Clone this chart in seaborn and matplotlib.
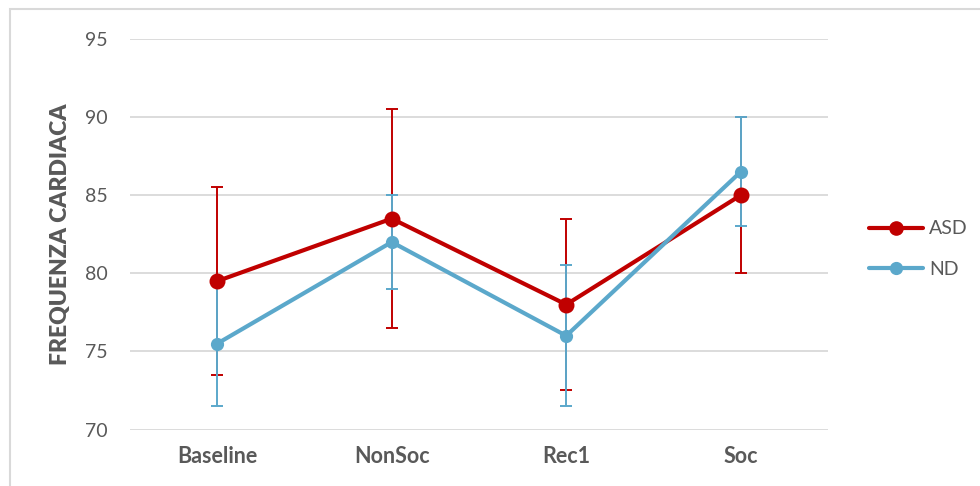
import matplotlib
matplotlib.use("Agg")
import matplotlib.pyplot as plt
from matplotlib.lines import Line2D
from matplotlib.patches import Rectangle
import numpy as np
import pandas as pd
import seaborn as sns

# Heart-rate means and error bar half-widths per condition
conditions = ["Baseline", "NonSoc", "Rec1", "Soc"]
asd_mean = [79.5, 83.5, 78.0, 85.0]
asd_err = [6.0, 7.0, 5.5, 5.0]
nd_mean = [75.5, 82.0, 76.0, 86.5]
nd_err = [4.0, 3.0, 4.5, 3.5]
groups = ["ASD", "ND"]
y_ticks = [70, 75, 80, 85, 90, 95]

red = "#C00000"
blue = "#5BA8CB"
text_grey = "#595959"
grid_grey = "#D9D9D9"

sns.set_theme(style="white")
plt.rcParams["font.family"] = ["Lato", "DejaVu Sans"]

df = pd.DataFrame({
    "pos": list(range(len(conditions))) * 2,
    "value": asd_mean + nd_mean,
    "group": ["ASD"] * len(conditions) + ["ND"] * len(conditions),
})

fig = plt.figure(figsize=(9.8, 4.86), dpi=100)
ax = fig.add_axes([130 / 980, (486 - 429.5) / 486, 698 / 980, 390.5 / 486])

# outer chart frame
fig.patches.append(Rectangle((10 / 980, -0.1), 1.2, (486 - 9) / 486 + 0.1,
                             transform=fig.transFigure, fill=False,
                             edgecolor=grid_grey, linewidth=1.5, zorder=0))

x = np.arange(len(conditions))
ax.errorbar(x, asd_mean, yerr=asd_err, fmt="none", ecolor=red,
            elinewidth=1.4, capsize=4, capthick=1.4, zorder=2)
ax.errorbar(x, nd_mean, yerr=nd_err, fmt="none", ecolor=blue,
            elinewidth=1.4, capsize=4, capthick=1.4, zorder=2)

sns.lineplot(data=df[df["group"] == "ASD"], x="pos", y="value", ax=ax,
             color=red, linewidth=3, marker="o", markersize=11.5,
             markeredgewidth=0, legend=False, zorder=3)
sns.lineplot(data=df[df["group"] == "ND"], x="pos", y="value", ax=ax,
             color=blue, linewidth=3, marker="o", markersize=9.5,
             markeredgewidth=0, legend=False, zorder=4)

ax.set_xlim(-0.5, len(conditions) - 0.5)
ax.set_ylim(70, 95)
ax.set_yticks(y_ticks)
ax.set_xticks(x)
ax.set_xticklabels(conditions, fontweight="bold", fontsize=15.5, color=text_grey)
ax.tick_params(axis="y", labelsize=14, colors=text_grey, pad=16, length=0)
ax.tick_params(axis="x", pad=12, length=0)
for lbl in ax.get_yticklabels():
    lbl.set_color(text_grey)

ax.grid(axis="y", color=grid_grey, linewidth=1.3)
ax.set_axisbelow(True)
for s in ax.spines.values():
    s.set_visible(False)

ax.set_xlabel("")
ax.set_ylabel("FREQUENZA CARDIACA", fontsize=16.5, fontweight="heavy",
              color=text_grey, labelpad=10)

handles = [
    Line2D([], [], color=red, linewidth=3, marker="o", markersize=9.5),
    Line2D([], [], color=blue, linewidth=3, marker="o", markersize=8.5),
]
leg = fig.legend(handles, groups, loc="center left",
                 bbox_to_anchor=(851 / 980, 1 - 249 / 486), frameon=False,
                 fontsize=14, handlelength=2.8, handletextpad=0.3,
                 labelspacing=1.2, labelcolor=text_grey)

fig.savefig("out.png", dpi=100)
